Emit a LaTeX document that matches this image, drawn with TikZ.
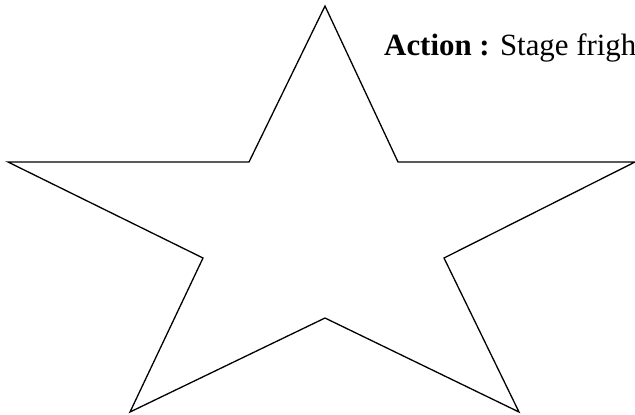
\documentclass[tikz,border=0pt]{standalone}
\usepackage{fontspec}
\setmainfont{Liberation Serif}
\begin{document}
\begin{tikzpicture}[x=1bp,y=-1bp,
  starline/.style={draw=black,line width=1.3bp,line join=miter},
  label/.style={anchor=base west,inner sep=0pt,font=\fontsize{31}{37}\selectfont}]
\useasboundingbox (0,0) rectangle (635,414);
\begin{scope}
\clip (0,0) rectangle (635,414);
\draw[starline] (325,6) -- (398,162) -- (635,162) -- (444,258) -- (519,412)
  -- (325,318) -- (130,412) -- (203,258) -- (8,162) -- (249,162) -- cycle;
\node[label] (t) at (384,55) {\textbf{Action :} Stage fright};
\end{scope}
\end{tikzpicture}
\end{document}
